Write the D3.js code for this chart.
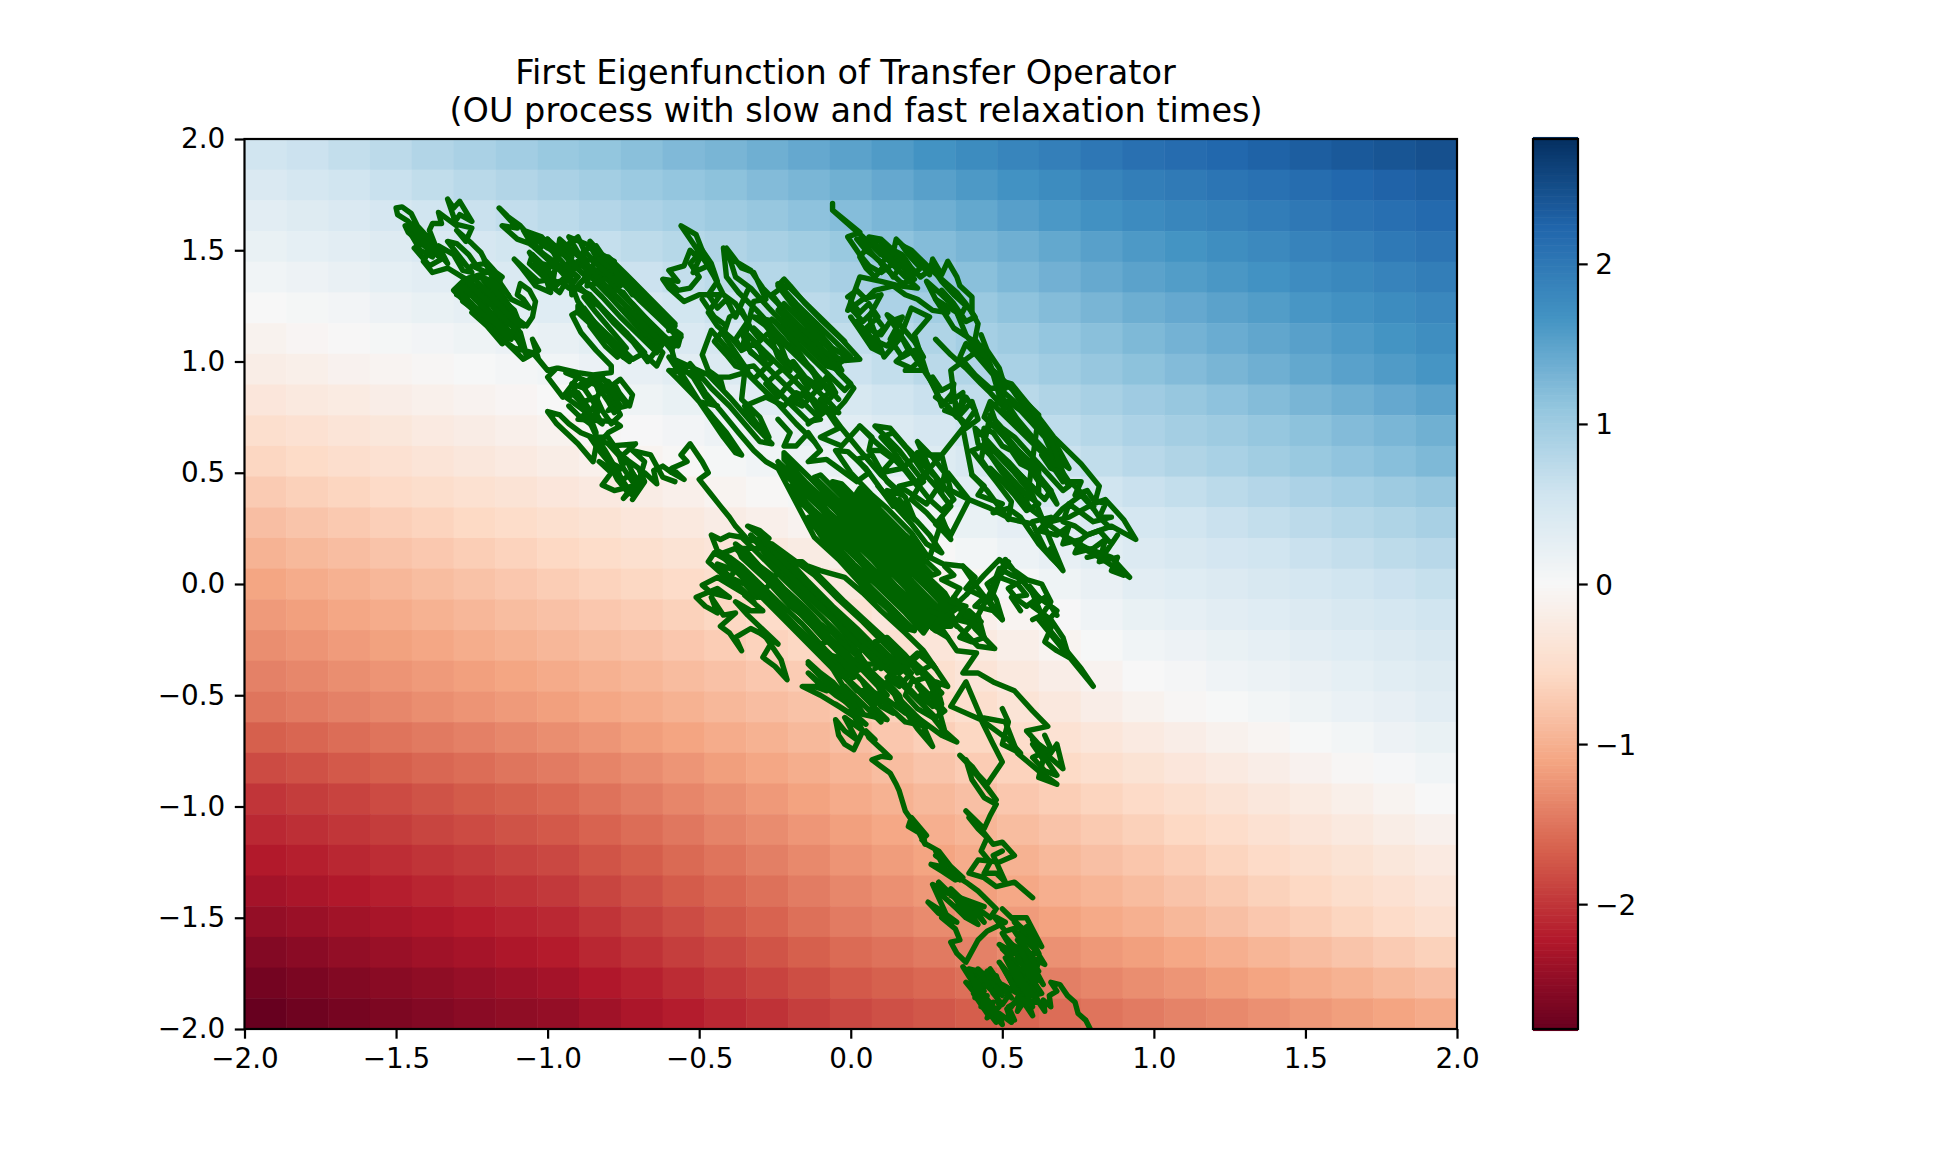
<!DOCTYPE html>
<html>
<head>
<meta charset="utf-8">
<script src="https://cdnjs.cloudflare.com/ajax/libs/d3/7.8.5/d3.min.js"></script>
<style>
  html, body { margin: 0; background: #fff; }
  svg text { font-family: "DejaVu Sans", sans-serif; fill: #000; white-space: pre; }
</style>
</head>
<body>
<svg id="chart" width="1955" height="1156"></svg>
<script>
// Chart text and tick labels
const titleLines = ['First Eigenfunction of Transfer Operator ', ' (OU process with slow and fast relaxation times)'];
const axisTicks = [-2, -1.5, -1, -0.5, 0, 0.5, 1, 1.5, 2];
const colorbarTicks = [-2, -1, 0, 1, 2];
const colorLimit = 2.78;
const rdBuStops = ['#67001f', '#b2182b', '#d6604d', '#f4a582', '#fddbc7', '#f7f7f7', '#d1e5f0', '#92c5de', '#4393c3', '#2166ac', '#053061'];

// Eigenfunction values, 29 x 29, first row is the top of the picture
const eigenRows = [
  [.55,.60,.68,.74,.83,.90,.97,1.05,1.10,1.17,1.24,1.29,1.36,1.43,1.50,1.58,1.67,1.76,1.84,1.92,2.01,2.10,2.15,2.20,2.26,2.31,2.36,2.40,2.45],
  [.43,.50,.56,.63,.70,.77,.83,.90,.96,1.03,1.09,1.15,1.22,1.28,1.35,1.43,1.52,1.60,1.68,1.76,1.85,1.93,1.98,2.04,2.09,2.14,2.20,2.25,2.30],
  [.30,.36,.43,.49,.56,.62,.69,.75,.81,.88,.94,1.01,1.07,1.14,1.20,1.28,1.36,1.44,1.53,1.61,1.69,1.77,1.83,1.88,1.94,2.00,2.06,2.11,2.17],
  [.20,.26,.31,.37,.43,.49,.54,.60,.66,.73,.79,.85,.92,.98,1.05,1.13,1.21,1.29,1.36,1.44,1.52,1.60,1.66,1.73,1.79,1.86,1.92,1.99,2.05],
  [.10,.15,.21,.26,.31,.36,.42,.47,.54,.60,.67,.73,.80,.86,.93,1.01,1.09,1.17,1.26,1.34,1.42,1.50,1.56,1.62,1.68,1.75,1.81,1.87,1.93],
  [.00,.04,.08,.14,.20,.25,.30,.35,.41,.48,.54,.61,.67,.74,.80,.88,.96,1.04,1.13,1.21,1.29,1.37,1.43,1.50,1.56,1.63,1.69,1.76,1.82],
  [-.10,-.05,-.01,.04,.08,.13,.17,.22,.29,.36,.43,.49,.56,.63,.70,.78,.86,.94,1.01,1.09,1.17,1.25,1.32,1.39,1.46,1.52,1.59,1.66,1.73],
  [-.20,-.16,-.11,-.07,-.03,.01,.06,.10,.17,.24,.31,.39,.46,.53,.60,.68,.76,.84,.91,.99,1.07,1.15,1.22,1.29,1.36,1.44,1.51,1.58,1.65],
  [-.33,-.28,-.24,-.19,-.14,-.09,-.05,.00,.07,.13,.20,.27,.34,.40,.47,.55,.62,.70,.77,.85,.92,1.00,1.07,1.14,1.21,1.29,1.36,1.43,1.50],
  [-.48,-.43,-.37,-.32,-.26,-.21,-.15,-.10,-.04,.02,.08,.15,.21,.27,.33,.41,.49,.57,.64,.72,.80,.88,.95,1.01,1.08,1.15,1.22,1.28,1.35],
  [-.60,-.54,-.49,-.43,-.37,-.31,-.26,-.20,-.14,-.08,-.02,.04,.10,.16,.22,.30,.38,.46,.54,.62,.70,.78,.85,.91,.98,1.05,1.12,1.18,1.25],
  [-.72,-.66,-.61,-.55,-.50,-.44,-.39,-.33,-.27,-.21,-.15,-.08,-.02,.04,.10,.17,.25,.32,.40,.47,.55,.62,.68,.75,.81,.88,.94,1.01,1.07],
  [-.85,-.79,-.74,-.68,-.63,-.57,-.52,-.46,-.40,-.34,-.28,-.21,-.15,-.09,-.03,.05,.12,.20,.27,.35,.42,.50,.56,.62,.68,.74,.80,.86,.92],
  [-.97,-.91,-.86,-.80,-.75,-.69,-.64,-.58,-.52,-.46,-.40,-.35,-.29,-.23,-.17,-.09,-.01,.07,.16,.24,.32,.40,.45,.51,.56,.62,.67,.73,.78],
  [-1.10,-1.04,-.99,-.93,-.87,-.81,-.76,-.70,-.64,-.59,-.53,-.47,-.41,-.36,-.30,-.21,-.13,-.04,.04,.13,.21,.30,.35,.40,.45,.50,.55,.60,.65],
  [-1.20,-1.15,-1.09,-1.04,-.98,-.93,-.87,-.82,-.76,-.71,-.65,-.59,-.53,-.48,-.42,-.33,-.24,-.15,-.07,.02,.11,.20,.25,.30,.35,.40,.45,.50,.55],
  [-1.30,-1.25,-1.19,-1.14,-1.09,-1.03,-.98,-.93,-.87,-.82,-.76,-.70,-.64,-.59,-.53,-.44,-.35,-.26,-.17,-.08,.01,.10,.15,.20,.25,.30,.35,.40,.45],
  [-1.40,-1.35,-1.30,-1.25,-1.20,-1.15,-1.10,-1.05,-.99,-.94,-.88,-.82,-.76,-.71,-.65,-.56,-.46,-.37,-.28,-.19,-.09,.00,.05,.11,.16,.21,.26,.32,.37],
  [-1.50,-1.45,-1.40,-1.35,-1.30,-1.25,-1.20,-1.15,-1.09,-1.04,-.98,-.92,-.86,-.81,-.75,-.66,-.56,-.47,-.38,-.29,-.19,-.10,-.04,.01,.07,.13,.19,.24,.30],
  [-1.67,-1.62,-1.56,-1.51,-1.46,-1.41,-1.35,-1.30,-1.24,-1.17,-1.11,-1.04,-.98,-.91,-.85,-.76,-.68,-.59,-.51,-.42,-.34,-.25,-.19,-.12,-.06,.01,.07,.14,.20],
  [-1.83,-1.78,-1.72,-1.67,-1.61,-1.56,-1.50,-1.45,-1.38,-1.31,-1.24,-1.16,-1.09,-1.02,-.95,-.87,-.79,-.71,-.64,-.56,-.48,-.40,-.33,-.26,-.19,-.11,-.04,.03,.10],
  [-2.00,-1.94,-1.89,-1.83,-1.77,-1.71,-1.66,-1.60,-1.52,-1.44,-1.36,-1.29,-1.21,-1.13,-1.05,-.98,-.91,-.84,-.76,-.69,-.62,-.55,-.47,-.39,-.31,-.24,-.16,-.08,.00],
  [-2.10,-2.05,-1.99,-1.94,-1.88,-1.83,-1.77,-1.72,-1.64,-1.56,-1.48,-1.39,-1.31,-1.23,-1.15,-1.08,-1.01,-.94,-.87,-.80,-.73,-.66,-.58,-.51,-.43,-.35,-.28,-.20,-.13],
  [-2.22,-2.17,-2.11,-2.06,-2.01,-1.96,-1.90,-1.85,-1.76,-1.68,-1.59,-1.51,-1.42,-1.34,-1.25,-1.18,-1.11,-1.04,-.98,-.91,-.84,-.77,-.70,-.62,-.55,-.47,-.40,-.32,-.25],
  [-2.33,-2.28,-2.23,-2.18,-2.12,-2.07,-2.02,-1.97,-1.88,-1.79,-1.70,-1.62,-1.53,-1.44,-1.35,-1.28,-1.22,-1.15,-1.08,-1.01,-.95,-.88,-.80,-.73,-.65,-.58,-.50,-.43,-.35],
  [-2.45,-2.40,-2.35,-2.30,-2.25,-2.20,-2.15,-2.10,-2.01,-1.91,-1.82,-1.73,-1.64,-1.54,-1.45,-1.39,-1.32,-1.26,-1.19,-1.13,-1.06,-1.00,-.92,-.84,-.76,-.69,-.61,-.53,-.45],
  [-2.57,-2.52,-2.46,-2.41,-2.36,-2.31,-2.25,-2.20,-2.11,-2.02,-1.93,-1.85,-1.76,-1.67,-1.58,-1.52,-1.46,-1.40,-1.33,-1.27,-1.21,-1.15,-1.08,-1.01,-.94,-.86,-.79,-.72,-.65],
  [-2.68,-2.63,-2.58,-2.53,-2.48,-2.43,-2.38,-2.33,-2.24,-2.16,-2.07,-1.98,-1.89,-1.81,-1.72,-1.66,-1.60,-1.54,-1.48,-1.42,-1.36,-1.30,-1.24,-1.17,-1.11,-1.04,-.98,-.91,-.85],
  [-2.78,-2.72,-2.67,-2.62,-2.57,-2.52,-2.48,-2.45,-2.36,-2.27,-2.19,-2.10,-2.02,-1.93,-1.85,-1.79,-1.74,-1.68,-1.62,-1.56,-1.51,-1.45,-1.39,-1.34,-1.28,-1.22,-1.16,-1.11,-1.05]
];

const trackBottom = [
  .79,-2.00,.775,-1.96,.75,-1.93,.74,-1.88,.715,-1.85,.69,-1.80,.66,-1.79,.68,-1.83,.655,-1.85,.66,-1.90,.635,-1.87,.64,-1.92,.61,-1.86,.59,-1.90,.60,-1.94,.57,-1.88,.55,-1.92,.56,-1.87,.52,-1.90,.54,-1.96,.515,-1.91,.53,-1.97,.49,-1.93,.50,-1.98,.465,-1.92,.48,-1.97,.44,-1.90,.47,-1.95,.42,-1.87,.45,-1.93,.405,-1.84,.44,-1.89,.38,-1.79,.43,-1.85,.37,-1.72,.41,-1.78,.44,-1.83,.40,-1.74,.46,-1.82,.42,-1.73,.49,-1.82,.45,-1.74,.51,-1.83,.47,-1.76,.53,-1.86,.50,-1.80,.55,-1.84,.51,-1.74,.53,-1.77,.49,-1.70,.55,-1.80,.57,-1.86,.59,-1.80,.53,-1.70,.58,-1.76,.62,-1.84,.60,-1.76,.55,-1.68,.60,-1.73,.635,-1.80,.58,-1.66,.50,-1.64,.55,-1.71,.49,-1.62,.54,-1.66,.50,-1.57,.57,-1.68,.62,-1.74,.55,-1.60,.60,-1.68,.64,-1.71,.59,-1.60,.54,-1.52,.58,-1.56,.63,-1.63,.58,-1.50,.53,-1.50,.50,-1.46,.56,-1.54,.51,-1.56,.47,-1.49,.51,-1.52,
  .45,-1.56,.42,-1.60,.38,-1.70,.35,-1.66,.33,-1.61,.36,-1.60,.345,-1.55,.30,-1.50,.35,-1.52,.30,-1.47,.255,-1.43,.29,-1.48,.32,-1.50,.27,-1.35,.31,-1.38,.29,-1.34,.35,-1.42,.38,-1.44,.33,-1.37,.40,-1.46,.44,-1.52,.40,-1.44,.46,-1.50,.48,-1.46,.42,-1.38,.38,-1.34,.30,-1.27,.265,-1.26,.30,-1.29,.345,-1.33,.37,-1.32,.33,-1.27,.29,-1.20,.25,-1.17,.235,-1.15,.25,-1.13,.20,-1.05,.19,-1.09,.24,-1.13,.245,-1.17,.21,-1.08,.18,-1.02,.16,-.93,.15,-.90,.13,-.85,.10,-.82,.07,-.79
];
const trackLower = [
  .10,-.775,.13,-.78,.10,-.74,.06,-.69,.05,-.66,.08,-.70,.04,-.66,.01,-.745,-.02,-.72,-.04,-.68,-.05,-.61,-.02,-.66,.02,-.70,-.02,-.60,.04,-.66,.00,-.57,.05,-.63,-.05,-.54,.02,-.60,-.10,-.50,-.16,-.46,-.12,-.46,-.08,-.48,-.14,-.40,-.05,-.50,.04,-.58,-.02,-.46,.07,-.58,.10,-.62,.06,-.52,.00,-.44,.08,-.54,.04,-.44,.10,-.55,.14,-.58,.09,-.46,.02,-.36,.07,-.42,.12,-.50,.05,-.38,.14,-.48,.16,-.55,.20,-.60,.24,-.64,.27,-.73,.22,-.65,.17,-.55,.23,-.61,.30,-.68,.35,-.71,.30,-.65,.26,-.58,.31,-.66,.29,-.56,.23,-.50,.27,-.55,.22,-.46,.26,-.50,.29,-.46,.24,-.39,.20,-.34,.24,-.30,.28,-.38,.22,-.31,.18,-.36,.14,-.31,.20,-.40,.16,-.46,.12,-.42,.17,-.36,.10,-.34,.15,-.40,.08,-.30
];
const trackMiddleLeft = [
  .02,-.24,-.06,-.13,-.14,-.02,-.20,.05,-.26,.14,-.30,.22,-.34,.26,-.30,.24,-.27,.205,-.31,.20,-.25,.12,-.18,.03,-.10,-.06,-.03,-.16,.03,-.26,.09,-.36,.05,-.36,-.02,-.25,-.08,-.17,-.16,-.06,-.22,.02,-.30,.13,-.36,.21,-.40,.22,-.43,.20,-.46,.22,-.44,.15,-.40,.12,-.36,.08,-.30,.00,-.24,-.08,-.16,-.18,-.08,-.30,-.02,-.38,.01,-.42,-.04,-.40,-.09,-.33,-.15,-.24,-.20,-.17,-.27,-.07,-.34,.03,-.40,.10,-.45,.14,-.47,.10,-.42,.04,-.38,.00,-.33,-.06,
  -.38,-.02,-.44,.03,-.49,-.005,-.46,-.04,-.40,-.06,-.44,-.02,-.51,-.06,-.48,-.10,-.44,-.13,-.46,-.06,-.42,-.14,-.38,-.13,-.43,-.19,-.40,-.22,-.36,-.30,-.38,-.24,-.33,-.20,-.30,-.22,-.26,-.26,-.29,-.33,-.25,-.37,-.21,-.43,-.23,-.34,-.26,-.28,-.29,-.22,-.24,-.27,-.34,-.14,-.38,-.08,-.33,-.12,-.29,-.12,-.35,-.05,-.30,-.06,
  -.22,.09,-.28,.19,-.20,.10,-.14,.01,-.06,-.10,.02,-.20,.10,-.31,.16,-.40,.19,-.37,.12,-.28,.04,-.17,-.04,-.07,-.12,.04,-.18,.10,-.16,.10,-.10,.03,-.02,-.08,.06,-.18,.14,-.28,.20,-.35,.24,-.30,.18,-.22,.10,-.12,.04,-.04,-.02,.03,-.10,.06,-.18,.10,-.26,.18,-.34,.20,-.38,.26,-.40,.30,-.43,.35,-.465,.41
];
const trackUpperLeft = [
  -.50,.47,-.47,.50,-.49,.55,-.53,.63,-.56,.58,-.54,.55,-.59,.52,-.55,.47,-.59,.50,-.62,.53,-.65,.51,-.64,.45,-.68,.50,-.71,.41,-.69,.47,-.75,.385,-.72,.44,-.78,.42,-.82,.445,-.79,.50,-.83,.55,-.77,.50,-.74,.56,-.79,.62,-.71,.63,-.76,.57,-.80,.63,-.89,.68,-.93,.72,-.96,.76,-1.0,.775,-.97,.72,-.90,.63,-.85,.55,-.84,.62,-.80,.68,-.76,.71,-.78,.73,-.90,.74,-.86,.78,-.90,.86,-.94,.84,-.88,.78,-.82,.72,-.85,.79,-.83,.86,-.85,.93,-.80,.91,-.76,.84,-.80,.78,-.74,.80,-.78,.90,-.76,.92,-.72,.85,-.73,.80,-.77,.87,-.85,.90,-.94,.95,-.90,.93,-.95,.84,-1.0,.93,-.97,.97,-1.0,.96,-1.03,1.01,-1.05,1.10,-1.03,1.05,-1.08,1.01,
  -1.14,1.09,-1.20,1.17,-1.26,1.25,-1.31,1.32,-1.28,1.36,-1.22,1.27,-1.16,1.18,-1.10,1.10,-1.07,1.03,-1.09,1.13,-1.15,1.22,-1.21,1.30,-1.26,1.36,-1.22,1.38,-1.17,1.29,-1.12,1.22,-1.08,1.16,-1.11,1.20,-1.07,1.16,-1.05,1.20,-1.04,1.27,-1.06,1.32,-1.09,1.35,-1.10,1.30,-1.08,1.28,-1.06,1.24,-1.09,1.26,-1.12,1.28,-1.16,1.36,-1.19,1.41,-1.15,1.38,-1.21,1.44,-1.25,1.43,-1.20,1.40,-1.27,1.37,-1.33,1.42,-1.38,1.40,-1.41,1.45,-1.39,1.50,-1.46,1.58,-1.47,1.61,-1.43,1.56,-1.35,1.46,-1.39,1.43,-1.44,1.51,-1.39,1.55,-1.43,1.61,-1.45,1.665,-1.48,1.695,-1.50,1.69,-1.495,1.66,-1.46,1.63,-1.41,1.56,-1.37,1.52,-1.39,1.59,-1.38,1.62,-1.35,1.62,-1.36,1.67,-1.33,1.64,-1.30,1.61,-1.33,1.73,-1.31,1.69,-1.29,1.72,-1.25,1.63,-1.29,1.66,-1.31,1.62,-1.25,1.60,-1.27,1.54,-1.30,1.59,-1.25,1.53,-1.22,1.49,-1.19,1.41,-1.17,1.40,-1.21,1.46,-1.18,1.37,-1.155,1.38,-1.16,1.33,
  -1.20,1.25,-1.24,1.29,-1.18,1.20,-1.13,1.12,-1.19,1.16,-1.15,1.10,-1.11,1.06,-1.05,1.04,-1.0,.96,-.965,.97,-.90,.95,-.85,.94,-.79,.95
];
const trackUpperBand = [
  -.79,.98,-.84,1.05,-.89,1.13,-.92,1.21,-.88,1.24,-.82,1.13,-.76,1.03,-.73,1.0,-.79,1.10,-.85,1.18,-.90,1.27,-.92,1.34,-.86,1.30,-.80,1.21,-.74,1.13,-.68,1.03,-.64,.98,-.62,1.04,-.68,1.12,-.74,1.21,-.80,1.30,-.85,1.37,-.89,1.44,-.84,1.41,-.78,1.34,-.72,1.26,-.66,1.17,-.60,1.09,-.57,1.07,-.56,1.12,-.62,1.18,-.68,1.28,-.73,1.35,-.77,1.41,-.80,1.45,-.86,1.52,-.93,1.56,-.90,1.49,-.96,1.50,-1.0,1.53,-1.02,1.56,-1.08,1.59,-1.05,1.52,-1.0,1.46,-.96,1.42,-1.02,1.44,-1.06,1.49,-1.03,1.42,-.98,1.37,-1.03,1.36,-1.11,1.46,-1.085,1.42,-1.04,1.34,-.99,1.31,-1.0,1.35,-.96,1.36,-.93,1.33,-.90,1.38,-.95,1.42,-1.06,1.53,-1.10,1.55,-1.15,1.61,-1.10,1.60,-1.16,1.69,-1.13,1.65,-1.09,1.61,-1.07,1.58,-1.0,1.51,-.93,1.47,-.90,1.42,-.86,1.46,-.82,1.42,-.86,1.52,-.77,1.41,-.685,1.31,-.60,1.17,-.56,1.11,-.60,1.10,-.58,1.0,-.52,.93,-.48,.84,-.44,.80,-.50,.82,-.56,.95,-.53,.99,-.46,.88,-.40,.80,-.35,.72,-.30,.64,-.26,.63,-.33,.73,-.40,.84,-.47,.94,-.60,1.02,-.54,.90,-.48,.78,-.42,.66,-.38,.59,-.36,.58,-.41,.68,-.46,.76,-.52,.85,-.57,.92,-.60,.96,-.52,.95,-.48,.86,-.43,.78,-.37,.68,-.32,.60,-.28,.55,-.24,.52
];
const trackCentre = [
  -.12,.21,-.04,.11,.04,-.01,.12,-.11,.18,-.20,.21,-.21,.13,-.10,.07,-.02,-.01,.09,-.10,.22,-.14,.30,-.06,.19,.01,.09,.09,-.01,.18,-.13,.24,-.22,.25,-.20,.17,-.09,.11,-.01,.03,.10,-.05,.21,-.16,.36,-.20,.44,-.12,.33,-.04,.23,.05,.10,.13,-.01,.21,-.12,.28,-.21,.30,-.21,.22,-.10,.15,-.01,.07,.11,-.02,.23,-.10,.34,-.20,.47,-.24,.55,-.16,.45,-.07,.32,.01,.22,.09,.11,.17,0,.25,-.11,.31,-.19,.33,-.19,.25,-.08,.19,.0,.11,.11,.03,.22,-.05,.33,-.15,.46,-.22,.56,-.22,.59,-.13,.47,-.05,.36,.03,.25,.11,.14,.19,.03,.27,-.08,.35,-.19,.33,-.13,.26,-.03,.20,.05,.13,.14,.05,.25,-.03,.36,-.12,.48,-.10,.49,-.02,.38,.06,.27,.14,.16,.21,.06,.29,-.04,.34,-.11,.31,-.04,.24,.05,.17,.15,.09,.26,.01,.37,-.06,.46,-.03,.45,.05,.34,.12,.25,.19,.15,.27,.04,.29,.05,.22,.14,.15,.24,.08,.33,.02,.41,.03,.43,.10,.33,.18,.22,.25,.13,.20,.23,.12,.34,.07,.40
];
const trackUpperMiddle = [
  .0,.50,-.05,.60,-.01,.595,.05,.52,.14,.35,.16,.38,.21,.29,.18,.39,.10,.49,.03,.60,-.03,.70,-.10,.83,-.07,.86,-.13,.97,-.19,1.05,-.25,1.14,-.31,1.23,-.37,1.31,-.41,1.38,-.42,1.51,-.38,1.45,-.33,1.41,-.29,1.33,-.24,1.26,-.19,1.18,-.12,1.08,-.06,1.0,.03,1.01,-.03,1.10,-.10,1.19,-.15,1.26,-.20,1.34,-.22,1.37,-.24,1.34,-.19,1.25,-.14,1.16,-.08,1.08,-.03,.96,-.08,.98,-.14,1.06,-.20,1.14,-.27,1.24,-.33,1.33,-.38,1.38,-.41,1.51,-.36,1.42,-.32,1.40,-.28,1.28,-.32,1.27,-.36,1.05,-.39,1.10,-.44,1.16,-.47,1.22,-.43,1.30,-.50,1.30,-.55,1.27,-.60,1.33,-.62,1.37,-.57,1.36,-.60,1.41,-.55,1.43,-.53,1.50,-.50,1.46,-.52,1.40,-.47,1.43,-.51,1.57,-.56,1.61,-.52,1.53,-.48,1.45,-.45,1.38,-.42,1.30,-.38,1.26,-.34,1.18,-.38,1.10,-.36,1.05,-.32,1.08,-.26,1.0,-.32,.92,-.46,1.14,-.49,1.03,-.47,.96,-.43,.92,-.42,.87,-.44,.93,-.40,.93,-.35,.95,-.36,.83,-.30,.75,-.27,.66,-.30,.70,-.35,.80,-.28,.84,-.22,.80,-.18,.86,-.13,.83,-.10,.76,-.14,.72,-.08,.78,-.04,.70,-.10,.66,-.03,.62,.03,.71,.07,.66,.06,.60,.10,.60,.14,.56,.10,.50,.17,.52,.22,.58,.30,.58,.22,.46,.16,.44,.25,.36,.32,.50,.39,.38,.33,.42,.30,.58,.37,.70
];
const trackEast = [
  .40,.49,.45,.42,.52,.29,.53,.37,.48,.46,.44,.53,.40,.60,.44,.62,.50,.50,.56,.40,.60,.33,.63,.30,.60,.40,.54,.50,.47,.60,.43,.68,.47,.72,.53,.62,.59,.52,.64,.44,.68,.36,.66,.42,.60,.52,.54,.62,.48,.72,.46,.80,.50,.82,.56,.72,.62,.62,.67,.52,.70,.46,.67,.56,.60,.66,.55,.74,.50,.84,.48,.91,.53,.88,.59,.76,.64,.68,.67,.65,.62,.75,.56,.85,.53,.90,.48,.92,.45,1.02,.41,1.10,.42,1.17,.40,1.22,.40,1.29,.36,1.34,.35,1.38,.32,1.45,.30,1.39,.27,1.46,.26,1.39,.21,1.47,.15,1.55,.14,1.49,.10,1.48,.04,1.56,-.06,1.68,-.06,1.71,-.06,1.68,.03,1.58,-.01,1.56,.03,1.48,.06,1.43,.10,1.40,.14,1.44,.07,1.52,.12,1.46,.18,1.38,.22,1.33,.16,1.34,.10,1.36,.03,1.38,-.01,1.23,.04,1.28,.10,1.30,.06,1.20,.11,1.02,.16,1.10,.20,1.24,.26,1.20,.21,1.12,.25,.95,.29,.84,.35,.75,.33,.96,.40,1.03,.43,1.07,.34,1.15,.28,1.28,.35,1.22,.38,1.12,.44,1.00,.50,.92,.62,.75,.67,.66,.76,.54,.82,.44,.80,.34,.76,.40,.70,.34,.66,.28,.72,.30,.80,.36,.84,.38,.90,.29,.94,.20,.86,.26,.78,.22,.74,.18,.82,.12,.92,.03,.86,.12,.78,.16,.70,.22,.63,.29,.70,.06,.64,.16,.60,.27,.53,.29
];
const trackFinal = [
  .46,.34,.39,.38,.33,.22,.30,.28,.26,.12,.305,.09,.37,.08,.42,-.02,.50,-.16,.46,-.08,.51,.11,.55,.04,.60,-.04,.64,-.08,.68,-.12,.64,-.18,.70,-.28,.76,-.38,.80,-.46,.74,-.36,.68,-.26,.62,-.16,.66,-.08,.63,.00,.58,.02,.49,.11,.44,.04,.38,-.05,.34,-.10,.40,-.14,.36,-.15,.30,-.19,.24,-.19,.29,-.10,.36,-.20,.42,-.28,.475,-.29,.41,-.20,.34,-.06,.30,-.20,.35,-.30,.415,-.31,.37,-.40,.42,-.40,.47,-.44,.54,-.48,.60,-.57,.65,-.64,.58,-.66,.62,-.72,.66,-.76,.68,-.72,.70,-.83,.64,-.76,.62,-.87,.68,-.90,.62,-.84,.55,-.76,.51,-.62,.43,-.60,.38,-.44,.33,-.55,.43,-.61,.47,-.72,.50,-.80,.45,-.90,.36,-.77,.40,-.82,.48,-.97,.44,-.90,.41,-.85,.38,-.79,.40,-.88,.44,-.96,.48,-.99,.46,-1.04,.44,-1.10,.38,-1.02,.40,-1.05,.47,-1.17,.50,-1.16,.54,-1.22,.49,-1.25,.42,-1.24,.39,-1.30,.44,-1.32,.48,-1.36,.54,-1.34,.60,-1.41
];

// Denser scribbles inside the dark clusters
const scribbleCornerBlob = [-1.30,1.30,-1.26,1.27,-1.28,1.33,-1.24,1.29,-1.20,1.21,-1.22,1.23,-1.18,1.16,-1.14,1.12,-1.16,1.16,-1.12,1.10,-1.13,1.14,-1.17,1.21,-1.15,1.23,-1.20,1.29,-1.18,1.31,-1.24,1.34,-1.21,1.33,-1.17,1.26,-1.14,1.19,-1.11,1.15,-1.09,1.09,-1.12,1.17,-1.15,1.24,-1.19,1.36,-1.14,1.28,-1.10,1.19,-1.25,1.24,-1.28,1.27,-1.23,1.23,-1.30,1.33];
const scribbleCornerSolid = [-1.25,1.22,-1.20,1.16,-1.15,1.08,-1.13,1.10,-1.17,1.17,-1.21,1.205,-1.29,1.31,-1.28,1.34,-1.24,1.28,-1.20,1.23,-1.16,1.17,-1.12,1.12,-1.11,1.15,-1.15,1.20,-1.19,1.26,-1.23,1.31,-1.27,1.37,-1.25,1.38,-1.21,1.33,-1.17,1.27,-1.13,1.21,-1.09,1.16,-1.11,1.23,-1.15,1.28,-1.18,1.33,-1.22,1.38,-1.18,1.36,-1.13,1.30];
const scribbleCornerTop = [-1.45,1.57,-1.42,1.50,-1.38,1.47,-1.41,1.54,-1.36,1.49,-1.33,1.44,-1.36,1.52,-1.31,1.48,-1.28,1.41,-1.25,1.40,-1.29,1.47,-1.33,1.54,-1.30,1.53,-1.26,1.48,-1.24,1.44];
const scribbleLowerLeft = [-.93,.80,-.90,.76,-.86,.72,-.84,.68,-.88,.82,-.84,.84,-.82,.78,-.79,.72,-.76,.76,-.80,.86,-.84,.92,-.88,.88,-.92,.90,-.80,.55,-.77,.53,-.76,.46,-.72,.50,-.70,.46,-.68,.55,-.72,.60,-.66,.58,-.62,.48,-.58,.46];
const scribbleLowerLeftUpper = [-.92,.86,-.88,.80,-.85,.75,-.83,.78,-.86,.84,-.89,.90,-.86,.92,-.83,.88,-.80,.82,-.78,.77,-.76,.80,-.79,.87,-.82,.93];
const scribbleLowerLeftDeep = [-.86,.66,-.83,.60,-.80,.55,-.77,.47,-.74,.42,-.72,.40,-.75,.46,-.78,.53,-.81,.60,-.84,.66,-.80,.66,-.77,.60,-.75,.52,-.72,.46,-.70,.44,-.74,.56,-.70,.52,-.68,.46,-.72,.38];
const scribbleBandLow = [-.86,1.16,-.81,1.07,-.77,1.02,-.74,1.06,-.79,1.14,-.84,1.22,-.88,1.29,-.83,1.25,-.78,1.17,-.72,1.09,-.67,1.00,-.63,1.07,-.70,1.17,-.75,1.26,-.81,1.34,-.75,1.31,-.70,1.22,-.64,1.13,-.59,1.05,-.58,1.13,-.64,1.22,-.70,1.32,-.72,1.36,-.66,1.27,-.62,1.21,-.58,1.16,-.60,1.14];
const scribbleBandSolid = [-.75,1.02,-.80,1.09,-.86,1.17,-.90,1.22,-.90,1.25,-.84,1.17,-.78,1.09,-.72,1.01,-.68,1.04,-.72,1.10,-.76,1.15,-.80,1.21,-.86,1.29,-.90,1.34,-.88,1.37,-.82,1.29,-.76,1.20,-.70,1.12,-.64,1.04,-.62,1.08,-.68,1.16,-.72,1.22,-.80,1.33,-.86,1.41,-.82,1.40,-.76,1.31,-.68,1.20,-.62,1.12,-.58,1.07,-.57,1.11,-.63,1.19,-.70,1.28,-.78,1.39,-.84,1.47,-.80,1.47,-.74,1.39,-.66,1.28,-.58,1.17];
const scribbleBandTop = [-1.06,1.57,-1.03,1.50,-1.0,1.55,-.97,1.46,-.95,1.53,-.92,1.47,-.95,1.40,-.98,1.45,-1.01,1.39,-.98,1.33,-.95,1.37,-.92,1.41,-.88,1.47,-.86,1.40,-.90,1.34,-.92,1.30,-.93,1.53,-.90,1.56,-.88,1.50,-.84,1.52,-.82,1.48,-.78,1.45,-.80,1.38,-.84,1.35,-.87,1.34,-.86,1.42,-.83,1.46,-.79,1.42,-.76,1.38,-.72,1.30];
const scribbleBandTopSolid = [-1.04,1.52,-1.0,1.46,-.96,1.41,-.92,1.35,-.90,1.38,-.94,1.43,-.98,1.49,-1.02,1.54,-1.0,1.55,-.96,1.50,-.92,1.44,-.88,1.39,-.85,1.41,-.88,1.45,-.92,1.50,-.96,1.55,-.98,1.38,-1.02,1.44,-1.05,1.48,-1.06,1.44,-1.02,1.39,-.98,1.33,-.96,1.31,-.88,1.50,-.84,1.44,-.80,1.39,-.76,1.34,-.78,1.43,-.82,1.48,-.86,1.54];
const scribbleMiddleUpper = [-.36,1.13,-.33,1.04,-.28,.99,-.31,1.08,-.27,1.13,-.24,1.02,-.20,.96,-.23,1.07,-.28,1.16,-.32,1.20,-.25,1.18,-.20,1.10,-.16,1.02,-.12,.94,-.10,.88,-.15,.93,-.19,1.0,-.24,.95,-.28,.90,-.24,.84,-.21,.89,-.17,.94,-.14,.88,-.19,.82,-.16,.80,-.12,.86,-.08,.93,-.05,.86,-.10,.79,-.06,.76,-.02,.82,.01,.88,-.04,.95,-.07,1.02,-.12,1.10,-.17,1.16,-.22,1.23,-.26,1.30,-.23,1.33,-.17,1.24,-.11,1.14,-.06,1.06,-.01,1.02,-.05,.98];
const scribbleMiddleSolid = [-.04,.83,-.10,.92,-.16,1.0,-.22,1.08,-.28,1.16,-.26,1.19,-.20,1.11,-.14,1.03,-.08,.95,-.02,.87,.00,.90,-.06,.98,-.12,1.06,-.18,1.14,-.24,1.23,-.22,1.26,-.16,1.18,-.10,1.10,-.04,1.01,.0,1.02,-.06,1.10,-.12,1.18,-.18,1.26,-.24,1.35,-.20,1.33,-.14,1.25,-.08,1.17,-.02,1.09];
const scribbleMiddleSolidLow = [-.32,1.15,-.26,1.07,-.20,.99,-.14,.91,-.08,.83,-.04,.77,-.10,.80,-.16,.88,-.22,.96,-.28,1.04,-.34,1.12,-.34,1.06,-.28,.98,-.22,.90,-.16,.82,-.10,.74,-.14,.73,-.20,.81,-.26,.89,-.32,.98,-.36,.97,-.30,.89,-.24,.81,-.18,.72,-.12,.64];
const scribbleMiddleWest = [-.49,1.28,-.45,1.20,-.41,1.16,-.45,1.09,-.41,1.03,-.38,.98,-.34,.96,-.36,1.0,-.42,1.12,-.40,1.20,-.36,1.23,-.33,1.15,-.30,1.10];
const scribbleMiddleTopLeft = [-.60,1.36,-.57,1.32,-.53,1.33,-.50,1.38,-.53,1.44,-.49,1.50,-.46,1.44,-.44,1.36,-.47,1.30,-.44,1.24,-.41,1.28,-.38,1.20,-.36,1.26,-.34,1.32];
const scribbleMiddleLower = [-.24,.74,-.20,.68,-.22,.62,-.18,.62,-.14,.68,-.10,.60,-.14,.55,-.08,.56,-.04,.52,.02,.46,.06,.50,.02,.56,.07,.58,.12,.46,.17,.40,.12,.42,.16,.36,.22,.28,.26,.22,.30,.14,.25,.18,.20,.27,.14,.36,.09,.44];
const scribbleMiddleEast = [.22,.59,.26,.52,.30,.45,.34,.38,.30,.33,.26,.38,.22,.45,.18,.52,.14,.60,.10,.66,.14,.68,.19,.60,.24,.50,.28,.44,.33,.35,.28,.27,.32,.22];
const scribbleMiddleStrands = [.03,.71,.08,.64,.13,.58,.18,.51,.22,.44,.24,.46,.20,.53,.16,.60,.11,.67,.08,.71,.13,.70,.18,.62,.23,.55,.28,.48,.30,.41,.31,.50,.27,.57,.22,.64,.26,.52,.20,.38,.25,.32,.29,.26,.33,.20,.30,.30];
const scribbleTopBlob = [.02,1.55,.05,1.50,.08,1.47,.11,1.43,.08,1.38,.05,1.42,.03,1.47,.06,1.52,.09,1.55,.12,1.50,.15,1.46,.18,1.41,.21,1.37,.17,1.35,.13,1.40,.10,1.44,.14,1.50,.17,1.48,.20,1.42,.23,1.38,.27,1.42,.30,1.36,.34,1.30,.38,1.25,.36,1.20,.33,1.26,.30,1.30,.25,1.36,.28,1.28,.32,1.22,.27,1.23,.22,1.28,.18,1.30,.14,1.34,.08,1.32,.05,1.28,.02,1.32,-.01,1.29];
const scribbleTopSolid = [.03,1.55,.08,1.47,.12,1.42,.14,1.38,.16,1.42,.12,1.48,.08,1.53,.06,1.56,.10,1.55,.14,1.50,.18,1.44,.20,1.38,.23,1.42,.19,1.48,.17,1.52,.20,1.50,.26,1.42,.30,1.37,.35,1.31,.38,1.26,.41,1.20,.38,1.18,.34,1.26,.30,1.32];
const scribbleTopLower = [.00,1.24,.04,1.18,.07,1.22,.11,1.15,.07,1.10,.12,1.07,.16,1.13,.19,1.05,.15,1.0,.20,.97,.24,1.02,.21,1.09,.16,1.17,.12,1.21,.28,.88,.30,.80,.33,.85,.36,.78,.38,.84,.41,.78,.38,.72,.35,.76,.31,.78];
const scribbleTopMiddle = [.00,1.27,.03,1.22,.06,1.26,.09,1.20,.05,1.15,.10,1.12,.13,1.18,.17,1.20,.13,1.10,.17,1.02,.21,1.05,.24,.96,.18,.96];
const scribbleTopStem = [.00,1.20,.03,1.14,.07,1.06,.10,1.04,.06,1.12,.02,1.18];
const scribbleTopBand = [.28,1.10,.33,1.03,.38,.97,.43,.90,.46,.86,.50,.80,.47,.94,.42,1.02,.38,1.08,.36,1.02,.41,.94,.46,.88,.51,.88,.49,.97,.45,1.05,.43,1.12];
const scribbleTopLobe = [.27,.93,.30,.87,.34,.90,.33,.82,.37,.86,.36,.76,.40,.82,.42,.74,.38,.70,.36,.74,.32,.80,.28,.84];
const scribbleEastBlob = [.44,.70,.47,.68,.50,.62,.53,.60,.56,.54,.59,.52,.62,.46,.66,.42,.64,.38,.60,.43,.56,.49,.52,.55,.48,.60,.44,.66,.41,.70,.42,.63,.46,.58,.50,.52,.54,.46,.58,.40,.62,.36,.58,.33,.54,.40,.50,.46,.46,.50,.43,.56,.46,.76,.50,.70,.54,.66,.58,.60,.62,.54,.66,.48,.70,.42,.72,.44,.68,.52,.64,.58,.60,.64,.56,.70,.52,.76,.50,.78,.52,.82,.56,.78,.60,.72,.64,.66,.68,.60,.70,.54,.72,.52,.68,.62,.64,.70,.60,.78,.70,.48,.74,.44,.78,.38,.82,.30,.85,.26];
const scribbleEastSolid = [.44,.65,.50,.57,.56,.49,.62,.41,.62,.51,.56,.59,.50,.67,.44,.75,.46,.82,.52,.74,.58,.66,.64,.58,.70,.50,.66,.65,.60,.73,.54,.82,.49,.88,.50,.92,.56,.84,.62,.76,.58,.36,.52,.44,.46,.52];
const scribbleEastRight = [.63,.58,.66,.52,.70,.50,.72,.46,.76,.46,.74,.40,.78,.42,.80,.38,.84,.36,.82,.30,.86,.30,.80,.28,.76,.32,.72,.36,.70,.28,.74,.26,.78,.22,.82,.24,.86,.18,.88,.22,.84,.14,.78,.12];
const scribbleEastLeft = [.40,.49,.44,.44,.42,.40,.46,.38,.50,.36,.47,.32,.52,.34,.56,.30,.58,.26,.60,.22,.62,.18,.66,.12,.69,.08,.66,.16];
const scribbleEastTail = [.60,.28,.66,.30,.62,.24,.68,.22,.72,.26,.70,.18,.76,.20,.74,.14,.80,.16,.84,.20,.82,.10,.88,.12,.86,.06,.90,.04];
const scribbleLeftBand = [-.42,.12,-.38,.06,-.40,.03,-.35,.00,-.31,-.06,-.33,-.02,-.28,-.05,-.24,-.12,-.20,-.18,-.16,-.22,-.12,-.28,-.08,-.26,-.12,-.20,-.16,-.14,-.20,-.10,-.24,-.04,-.28,.02,-.32,.07,-.36,.12,-.38,.18,-.34,.14,-.30,.08,-.26,.04,-.22,-.02,-.18,-.07,-.14,-.12,-.10,-.18,-.06,-.22,-.02,-.28,.02,-.32,.06,-.38,.02,-.30,-.02,-.22,-.06,-.16,-.10,-.11,-.14,-.06,-.18,-.01,-.22,.05,-.26,.09,-.30,.17,-.33,.22,-.28,.16,-.24,.08,-.20,.04,-.16,-.02,-.12,-.07,-.08,-.12,-.04,-.17,.00,-.23,.04,-.28,.08,-.34,.12,-.38];
const scribbleLeftSolid = [-.25,.14,-.18,.05,-.10,-.06,-.02,-.17,.06,-.28,.12,-.36,.10,-.38,.03,-.28,-.05,-.17,-.13,-.06,-.21,.05,-.29,.16,-.36,.16,-.28,.05,-.20,-.06,-.12,-.17,-.04,-.28,.04,-.38,.02,-.39,-.06,-.28,-.14,-.17,-.22,-.06,-.30,.05,-.38,.16,-.42,.14,-.34,.03,-.26,-.08,-.18,-.19,-.10,-.29,-.02,-.40,-.06,-.38,-.14,-.27,-.22,-.16,-.30,-.05,-.38,.06,-.44,.09,-.37,-.01,-.32,-.08];
const scribbleLowerBand = [-.14,-.35,-.10,-.40,-.06,-.44,-.02,-.50,.02,-.56,-.06,-.38,-.02,-.42,.02,-.48,.06,-.48,.10,-.50,.14,-.54,.18,-.58,.16,-.50,.12,-.44,.16,-.42,.20,-.48,.24,-.54,.27,-.60,.22,-.56,.18,-.50,.20,-.44,.25,-.42,.28,-.50,.30,-.54,.28,-.44,.32,-.46,.27,-.36,.22,-.40,.20,-.36,.16,-.34,.12,-.34,.08,-.38];
const scribbleLowerSolid = [-.14,-.36,-.06,-.47,.02,-.58,.12,-.61,.06,-.53,-.02,-.42,-.10,-.31,-.04,-.33,.02,-.41,.10,-.52,.18,-.62,.25,-.64,.20,-.57,.14,-.49,.08,-.41,.02,-.33,.04,-.28,.10,-.36,.16,-.44,.22,-.52,.28,-.60,.31,-.57,.26,-.50,.20,-.42,.14,-.34,.08,-.26,.12,-.24,.18,-.32,.24,-.41,.30,-.49];
const scribbleRightUpper = [.37,.08,.41,.03,.38,-.02,.44,-.06,.41,-.10,.47,-.12,.50,-.16,.48,-.07,.45,-.0,.50,.05,.52,.10,.49,.03,.55,.0,.58,-.05,.53,-.06,.56,-.12];
const scribbleRightLower = [.63,-.14,.66,-.20,.64,-.26,.68,-.30,.72,-.33,.70,-.24,.66,-.16,.60,-.10,.64,-.06,.68,-.14];
const scribbleRightMiddle = [.26,-.12,.30,-.14,.27,-.20,.32,-.24,.28,-.18,.36,-.10,.40,-.18,.36,-.24,.40,-.26,.44,-.24,.39,-.12,.43,-.17];
const scribbleRightDense = [.31,.08,.34,.04,.30,.02,.36,-.02,.33,-.08,.38,-.10,.35,-.16,.41,-.18,.44,-.24,.42,-.14,.46,-.04,.49,.07,.53,.04,.57,.02,.52,-.02,.55,-.07,.58,-.10,.62,-.06,.59,-.01,.63,-.14,.60,-.16];
const scribbleFarCluster = [.60,-.72,.63,-.78,.60,-.70,.65,-.80,.68,-.86,.64,-.84,.60,-.78,.66,-.74,.64,-.68];
const scribbleFarStrand = [.44,-.62,.48,-.66,.52,-.70,.56,-.76,.50,-.72,.52,-.62,.50,-.56];
const scribbleBottomLeft = [.40,-1.80,.43,-1.82,.41,-1.86,.45,-1.85,.43,-1.90,.47,-1.88,.45,-1.95,.49,-1.90,.48,-1.84,.46,-1.79,.50,-1.85,.48,-1.76,.44,-1.76,.42,-1.80,.40,-1.76];
const scribbleBottomLeftSolid = [.39,-1.76,.42,-1.80,.44,-1.85,.47,-1.90,.49,-1.95,.46,-1.92,.43,-1.86,.41,-1.81,.39,-1.73,.42,-1.74,.45,-1.79,.47,-1.84,.50,-1.89,.52,-1.85,.49,-1.79,.46,-1.73];
const scribbleBottomRight = [.53,-1.90,.56,-1.84,.58,-1.88,.62,-1.88,.60,-1.82,.56,-1.78,.54,-1.82,.52,-1.76,.56,-1.73,.60,-1.77,.62,-1.70,.58,-1.70,.55,-1.64,.59,-1.66,.62,-1.66,.56,-1.58];
const scribbleBottomRightSolid = [.50,-1.72,.53,-1.79,.56,-1.86,.60,-1.90,.58,-1.84,.54,-1.76,.51,-1.68,.54,-1.72,.57,-1.79,.60,-1.85,.63,-1.84,.60,-1.78,.56,-1.70,.53,-1.62,.56,-1.64,.59,-1.72,.62,-1.78,.60,-1.68,.57,-1.62,.54,-1.56,.60,-1.62,.62,-1.66,.58,-1.54];
const scribbleBottomUpper = [.28,-1.22,.32,-1.26,.29,-1.27,.34,-1.30,.36,-1.33,.31,-1.28,.28,-1.20];
const scribbleBottomMiddle = [.30,-1.38,.34,-1.40,.37,-1.47,.41,-1.50,.36,-1.41,.33,-1.40,.44,-1.45,.28,-1.37,.31,-1.41,.35,-1.46,.38,-1.50,.42,-1.53,.39,-1.47,.36,-1.43,.32,-1.38];
const scribbleBottomStem = [.39,-1.05,.42,-1.10,.45,-1.14,.43,-1.20,.46,-1.25,.44,-1.30,.48,-1.30,.51,-1.34,.47,-1.22,.50,-1.20];

const mainTrack = [].concat(trackBottom, trackLower, trackMiddleLeft, trackUpperLeft, trackUpperBand, trackCentre, trackUpperMiddle, trackEast, trackFinal);
const trackStretches = [mainTrack, scribbleCornerBlob, scribbleCornerSolid, scribbleCornerTop, scribbleLowerLeft, scribbleLowerLeftUpper, scribbleLowerLeftDeep, scribbleBandLow, scribbleBandSolid, scribbleBandTop, scribbleBandTopSolid,
  scribbleMiddleUpper, scribbleMiddleSolid, scribbleMiddleSolidLow, scribbleMiddleWest, scribbleMiddleTopLeft, scribbleMiddleLower, scribbleMiddleEast, scribbleMiddleStrands,
  scribbleTopBlob, scribbleTopSolid, scribbleTopLower, scribbleTopMiddle, scribbleTopStem, scribbleTopBand, scribbleTopLobe, scribbleEastBlob, scribbleEastSolid, scribbleEastRight, scribbleEastLeft, scribbleEastTail,
  scribbleLeftBand, scribbleLeftSolid, scribbleLowerBand, scribbleLowerSolid, scribbleRightUpper, scribbleRightLower, scribbleRightMiddle, scribbleRightDense, scribbleFarCluster, scribbleFarStrand,
  scribbleBottomLeft, scribbleBottomLeftSolid, scribbleBottomRight, scribbleBottomRightSolid, scribbleBottomUpper, scribbleBottomMiddle, scribbleBottomStem];

const plot = { left: 244.5, right: 1457, top: 139, bottom: 1029 };
const bar = { left: 1533, right: 1578 };

const svg = d3.select('#chart');
const x = d3.scaleLinear().domain([-2, 2]).range([plot.left, plot.right]);
const y = d3.scaleLinear().domain([-2, 2]).range([plot.bottom, plot.top]);
const colorScale = d3.scaleLinear()
  .domain(rdBuStops.map((c, i) => -colorLimit + 2 * colorLimit * i / 10))
  .range(rdBuStops);

// Heat map cells
const cellCount = eigenRows.length;
const cellEdge = i => -2 + 4 * i / cellCount;
const cells = eigenRows.flatMap((row, r) => row.map((value, c) => ({ r, c, value })));
svg.append('g').selectAll('rect')
  .data(cells)
  .enter()
  .append('rect')
  .attr('x', d => x(cellEdge(d.c)))
  .attr('y', d => y(2 - 4 * d.r / cellCount))
  .attr('width', d => x(cellEdge(d.c + 1)) - x(cellEdge(d.c)) + 0.5)
  .attr('height', d => y(2 - 4 * (d.r + 1) / cellCount) - y(2 - 4 * d.r / cellCount) + 0.5)
  .attr('fill', d => colorScale(d.value));

// Path on top, clipped to the axes
svg.append('clipPath').attr('id', 'plot-clip').append('rect')
  .attr('x', plot.left).attr('y', plot.top)
  .attr('width', plot.right - plot.left).attr('height', plot.bottom - plot.top);
const toPoints = s => d3.range(0, s.length, 2).map(i => [s[i], s[i + 1]]);
const trackLine = d3.line().x(d => x(d[0])).y(d => y(d[1]));
svg.append('g')
  .attr('clip-path', 'url(#plot-clip)')
  .selectAll('path')
  .data(trackStretches.map(toPoints))
  .enter()
  .append('path')
  .attr('fill', 'none')
  .attr('stroke', '#006400')
  .attr('stroke-width', 5.4)
  .attr('stroke-linejoin', 'round')
  .attr('stroke-linecap', 'round')
  .attr('d', trackLine);

// Axes
const styleAxis = g => {
  g.selectAll('text').style('font-size', '27.8px').style('font-family', '"DejaVu Sans"');
  g.selectAll('line').attr('stroke', '#000').attr('stroke-width', 2.2);
};
svg.append('g')
  .attr('transform', `translate(0,${plot.bottom})`)
  .call(d3.axisBottom(x).tickValues(axisTicks).tickFormat(d3.format('.1f')).tickSize(9.7).tickPadding(10))
  .call(g => g.select('.domain').remove())
  .call(styleAxis);
svg.append('g')
  .attr('transform', `translate(${plot.left},0)`)
  .call(d3.axisLeft(y).tickValues(axisTicks).tickFormat(d3.format('.1f')).tickSize(9.7).tickPadding(9.5))
  .call(g => g.select('.domain').remove())
  .call(styleAxis);
svg.append('rect')
  .attr('x', plot.left).attr('y', plot.top)
  .attr('width', plot.right - plot.left).attr('height', plot.bottom - plot.top)
  .attr('fill', 'none').attr('stroke', '#000').attr('stroke-width', 2.2);

// Colour bar
const barY = d3.scaleLinear().domain([-colorLimit, colorLimit]).range([plot.bottom, plot.top]);
const barLevels = d3.range(256).map(i => -colorLimit + 2 * colorLimit * i / 255);
const barStep = (plot.bottom - plot.top) / 255;
svg.append('g').selectAll('rect')
  .data(barLevels)
  .enter()
  .append('rect')
  .attr('x', bar.left)
  .attr('y', d => barY(d) - barStep / 2 - 0.3)
  .attr('width', bar.right - bar.left)
  .attr('height', barStep + 0.6)
  .attr('fill', d => colorScale(d));
svg.append('g')
  .attr('transform', `translate(${bar.right},0)`)
  .call(d3.axisRight(barY).tickValues(colorbarTicks).tickFormat(d3.format('d')).tickSize(9.7).tickPadding(7.5))
  .call(g => g.select('.domain').remove())
  .call(g => g.selectAll('text').attr('dy', '0.36em'))
  .call(styleAxis);
svg.append('rect')
  .attr('x', bar.left).attr('y', plot.top)
  .attr('width', bar.right - bar.left).attr('height', plot.bottom - plot.top)
  .attr('fill', 'none').attr('stroke', '#000').attr('stroke-width', 2.2);

// Title
svg.append('g').selectAll('text')
  .data(titleLines)
  .enter()
  .append('text')
  .attr('x', (plot.left + plot.right) / 2)
  .attr('y', (d, i) => 84 + i * 38)
  .attr('text-anchor', 'middle')
  .style('font-size', '33.5px')
  .text(d => d);
</script>
</body>
</html>
